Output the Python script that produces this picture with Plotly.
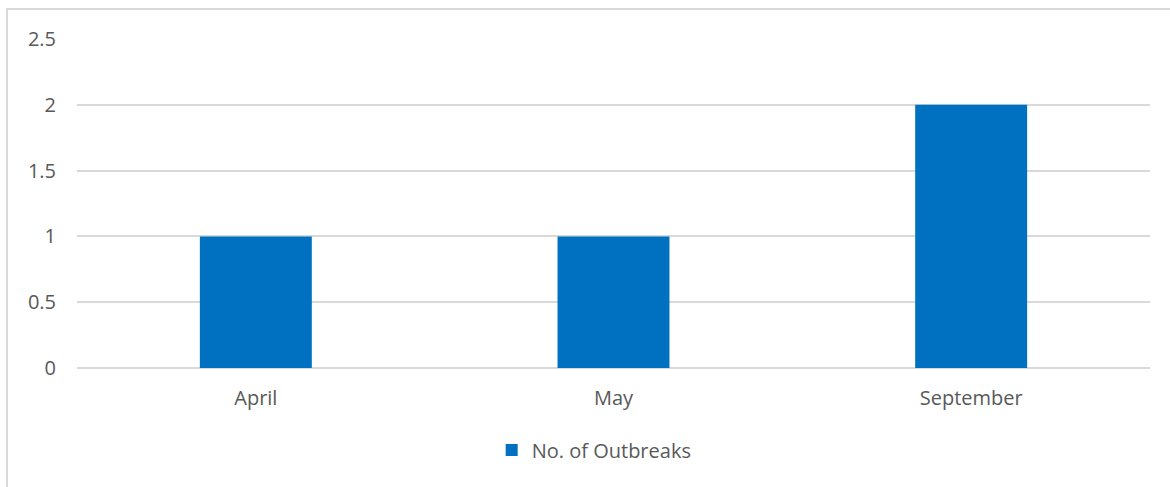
import plotly.graph_objects as go

months = ["April", "May", "September"]
outbreaks = [1, 1, 2]
series_name = "No. of Outbreaks"
y_ticks = [0, 0.5, 1, 1.5, 2, 2.5]
y_tick_text = ["0", "0.5", "1", "1.5", "2", "2.5"]

W, H = 1170, 487
L, R, T, B = 77, 20, 39, 119
pw, ph = W - L - R, H - T - B

fig = go.Figure()
fig.add_trace(go.Bar(x=months, y=outbreaks, name=series_name,
                     marker=dict(color="#0070C0", line=dict(width=0))))

font = dict(family="Open Sans, Noto Sans, sans-serif", size=20, color="#595959")
fig.update_layout(
    width=W, height=H,
    margin=dict(l=L, r=R, t=T, b=B),
    paper_bgcolor="white", plot_bgcolor="white",
    font=font,
    bargap=0.687,
    showlegend=True,
    legend=dict(orientation="h", x=0.482, xanchor="center", y=-0.19, yanchor="top",
                font=font, itemwidth=30),
    xaxis=dict(showgrid=False, zeroline=False, showline=False, ticks="",
               ticklabelstandoff=16, tickfont=font),
    yaxis=dict(range=[0, 2.5], tickvals=y_ticks, ticktext=y_tick_text,
               showgrid=True, gridcolor="#D9D9D9", gridwidth=1.5,
               zeroline=True, zerolinecolor="#D9D9D9", zerolinewidth=1.5,
               showline=False, ticks="", ticklabelstandoff=20, tickfont=font),
    shapes=[dict(type="rect", xref="paper", yref="paper",
                 x0=(7 - L) / pw, x1=(W + 10 - L) / pw,
                 y0=-(H + 10 - T - ph) / ph, y1=(ph + T - 9) / ph,
                 line=dict(color="#D9D9D9", width=2), fillcolor="rgba(0,0,0,0)",
                 layer="below")],
)
fig.write_html("out.html")
